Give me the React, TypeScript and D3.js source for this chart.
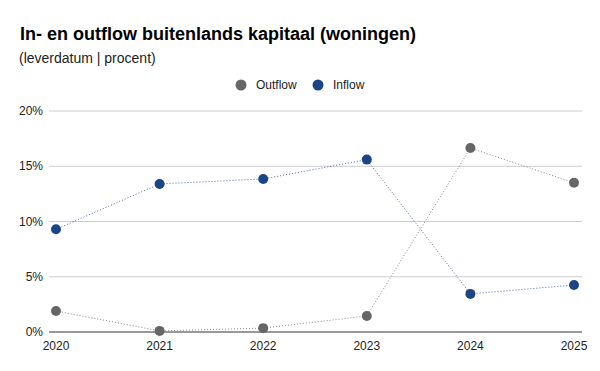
import * as d3 from "d3";
import { useEffect, useRef } from "react";

const years = ["2020", "2021", "2022", "2023", "2024", "2025"];
const outflow = [1.9, 0.1, 0.35, 1.45, 16.65, 13.5];
const inflow = [9.3, 13.4, 13.85, 15.6, 3.45, 4.25];
const yTicks = [0, 5, 10, 15, 20];

const series = [
  { name: "Outflow", values: outflow, color: "#666666" },
  { name: "Inflow", values: inflow, color: "#1c4587" },
];

const FONT = "'Liberation Sans', Arial, sans-serif";

function App() {
  const svgRef = useRef<SVGSVGElement>(null);
  const width = 600;
  const height = 371;

  useEffect(() => {
    const svg = d3.select(svgRef.current);
    svg.selectAll("*").remove();

    const x = d3.scalePoint().domain(years).range([56, 574]);
    const y = d3.scaleLinear().domain([0, 20]).range([332, 111]);

    svg.append("rect").attr("width", width).attr("height", height).attr("fill", "#fff");

    svg.append("text")
      .attr("x", 20).attr("y", 40)
      .attr("font-family", FONT)
      .attr("font-size", 18).attr("font-weight", "bold")
      .attr("fill", "#000")
      .text("In- en outflow buitenlands kapitaal (woningen)");

    svg.append("text")
      .attr("x", 19).attr("y", 63)
      .attr("font-family", FONT)
      .attr("font-size", 14)
      .attr("fill", "#222")
      .text("(leverdatum | procent)");

    // legend
    const legend = svg.append("g").attr("font-family", FONT).attr("font-size", 12);
    const legendX = [241, 318];
    series.forEach((s, i) => {
      legend.append("circle").attr("cx", legendX[i]).attr("cy", 85).attr("r", 5.5).attr("fill", s.color);
      legend.append("text").attr("x", legendX[i] + 15).attr("y", 89).attr("fill", "#222").text(s.name);
    });

    // grid
    svg.append("g")
      .selectAll("line")
      .data(yTicks.slice(1))
      .join("line")
      .attr("x1", 49).attr("x2", 582)
      .attr("y1", (d) => y(d)).attr("y2", (d) => y(d))
      .attr("stroke", "#cccccc").attr("stroke-width", 1);

    svg.append("line")
      .attr("x1", 49).attr("x2", 582)
      .attr("y1", y(0)).attr("y2", y(0))
      .attr("stroke", "#333").attr("stroke-width", 1);

    svg.append("g")
      .attr("font-family", FONT).attr("font-size", 12)
      .selectAll("text")
      .data(yTicks)
      .join("text")
      .attr("x", 43).attr("y", (d) => y(d) + 4)
      .attr("text-anchor", "end").attr("fill", "#222")
      .text((d) => d + "%");

    svg.append("g")
      .attr("font-family", FONT).attr("font-size", 12)
      .selectAll("text")
      .data(years)
      .join("text")
      .attr("x", (d) => x(d)!).attr("y", 350)
      .attr("text-anchor", "middle").attr("fill", "#222")
      .text((d) => d);

    const line = d3.line<number>()
      .x((d, i) => x(years[i])!)
      .y((d) => y(d));

    series.forEach((s) => {
      svg.append("path")
        .attr("d", line(s.values))
        .attr("fill", "none")
        .attr("stroke", s.color)
        .attr("stroke-width", 1)
        .attr("stroke-dasharray", "1,2")
        .attr("opacity", 0.8);
      svg.append("g")
        .selectAll("circle")
        .data(s.values)
        .join("circle")
        .attr("cx", (d, i) => x(years[i])!)
        .attr("cy", (d) => y(d))
        .attr("r", 5)
        .attr("fill", s.color);
    });
  }, []);

  return <svg ref={svgRef} width={width} height={height} style={{ display: "block", position: "absolute", left: 0, top: 0 }} />;
}

export default App;
